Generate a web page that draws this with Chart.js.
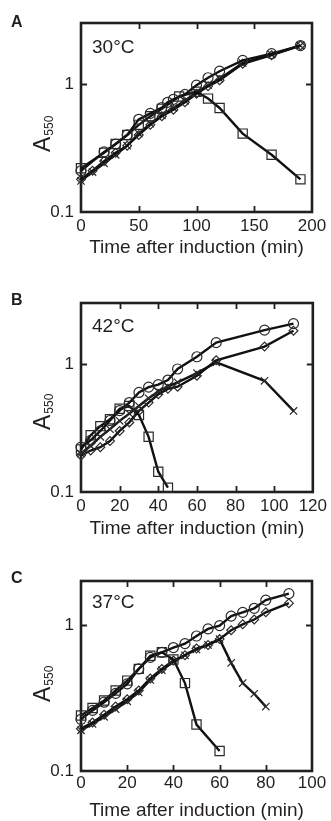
<!DOCTYPE html>
<html>
<head>
<meta charset="utf-8">
<script src="https://cdn.jsdelivr.net/npm/chart.js@4.4.1/dist/chart.umd.min.js"></script>
<style>
  html, body { margin:0; padding:0; background:#fff; }
  body { width:331px; height:821px; position:relative; overflow:hidden; }
  canvas { position:absolute; left:0; }
</style>
</head>
<body>
<canvas id="cA" width="331" height="270" style="top:0px"></canvas>
<canvas id="cB" width="331" height="270" style="top:280px"></canvas>
<canvas id="cC" width="331" height="271" style="top:550px"></canvas>
<script>
// ---------- Data ----------
// Panel A, 30°C
const aCircleT  = [0,20,30,40,50,60,70,75,80,90,100,110,120,140,165,190];
const aCircleV  = [0.21,0.295,0.34,0.40,0.53,0.59,0.655,0.72,0.76,0.83,0.98,1.12,1.26,1.53,1.73,2.0];
const aSquareT  = [0,20,30,40,50,60,70,85,100,110,120,140,165,190];
const aSquareV  = [0.22,0.29,0.34,0.40,0.48,0.56,0.64,0.80,0.87,0.77,0.65,0.41,0.28,0.18];
const aDiamondT = [0,10,20,30,40,50,60,70,80,90,100,110,120,140,165,190];
const aDiamondV = [0.18,0.21,0.25,0.29,0.33,0.40,0.48,0.56,0.63,0.72,0.84,0.96,1.07,1.44,1.68,2.0];
const aCrossT   = [0,10,20,30,40,50,60,70,80,90,100,110,120,140,165,190];
const aCrossV   = [0.175,0.205,0.24,0.28,0.33,0.41,0.49,0.57,0.65,0.74,0.86,0.98,1.10,1.46,1.70,2.0];

// Panel B, 42°C
const bCircleT  = [0,5,10,15,20,25,30,35,40,45,50,60,70,95,110];
const bCircleV  = [0.224,0.253,0.30,0.362,0.433,0.50,0.60,0.66,0.69,0.75,0.915,1.14,1.47,1.84,2.07];
const bSquareT  = [0,5,10,15,20,25,30,35,40,45];
const bSquareV  = [0.215,0.278,0.327,0.37,0.447,0.47,0.40,0.27,0.144,0.108];
const bDiamondT = [0,5,10,15,20,25,30,35,40,45,50,60,70,95,110];
const bDiamondV = [0.193,0.211,0.224,0.25,0.30,0.35,0.43,0.50,0.58,0.64,0.665,0.81,1.07,1.37,1.82];
const bCrossT   = [0,5,10,15,20,25,30,35,40,45,50,60,70,95,110];
const bCrossV   = [0.20,0.23,0.27,0.31,0.36,0.41,0.47,0.54,0.61,0.67,0.72,0.85,1.03,0.74,0.43];

// Panel C, 37°C
const cCircleT  = [0,5,10,15,20,25,30,35,40,45,50,55,60,65,70,75,80,90];
const cCircleV  = [0.226,0.26,0.296,0.34,0.395,0.50,0.60,0.65,0.70,0.745,0.84,0.94,0.99,1.15,1.22,1.30,1.48,1.64];
const cSquareT  = [0,5,10,15,20,25,30,35,40,45,50,60];
const cSquareV  = [0.24,0.27,0.304,0.356,0.416,0.50,0.615,0.65,0.58,0.40,0.208,0.137];
const cDiamondT = [0,5,10,15,20,25,30,35,40,45,50,55,60,65,70,75,80,90];
const cDiamondV = [0.195,0.215,0.243,0.277,0.31,0.356,0.43,0.50,0.57,0.62,0.69,0.73,0.80,0.92,1.01,1.09,1.22,1.41];
const cCrossT   = [0,5,10,15,20,25,30,35,40,45,50,55,60,65,70,75,80];
const cCrossV   = [0.19,0.21,0.235,0.265,0.30,0.345,0.42,0.49,0.56,0.62,0.68,0.73,0.80,0.55,0.40,0.338,0.276];

// Axis ticks / labels
const aXTicks = [0,50,100,150,200];
const bXTicks = [0,20,40,60,80,100,120];
const cXTicks = [0,20,40,60,80,100];
const yTicks = [0.1, 1];
const yTickLabels = ['0.1', '1'];
const panelLetters = ['A','B','C'];
const panelTemps = ['30°C','42°C','37°C'];
const xTitle = 'Time after induction (min)';
const yTitleMain = 'A';
const yTitleSub = '550';

// ---------- Rendering ----------
const FONT = '"Liberation Sans", Arial, Helvetica, sans-serif';
const INK = '#231f20';

function pts(ts, vs) { return ts.map((t, i) => ({x: t, y: vs[i]})); }

function ds(ts, vs, style, radius) {
  return {
    data: pts(ts, vs),
    showLine: true,
    borderColor: '#111',
    borderWidth: 2.4,
    pointStyle: style,
    pointRadius: radius,
    pointHoverRadius: radius,
    pointBorderColor: '#2a2a2a',
    pointBorderWidth: 1.2,
    pointBackgroundColor: 'rgba(0,0,0,0)',
    tension: 0,
    clip: 12
  };
}

const framePlugin = {
  id: 'frame',
  beforeDatasetsDraw(chart, args, o) {
    const ctx = chart.ctx, a = chart.chartArea;
    const xs = chart.scales.x, ys = chart.scales.y;
    ctx.save();
    ctx.strokeStyle = INK;
    ctx.lineWidth = 1.8;
    const L = 6;
    o.xTicks.forEach(v => {
      const px = Math.round(xs.getPixelForValue(v)) + 0.5;
      if (px - a.left < 2 || a.right - px < 2) return;
      ctx.beginPath();
      ctx.moveTo(px, a.bottom); ctx.lineTo(px, a.bottom - L);
      ctx.moveTo(px, a.top); ctx.lineTo(px, a.top + L);
      ctx.stroke();
    });
    o.yTicks.forEach(v => {
      const py = Math.round(ys.getPixelForValue(v)) + 0.5;
      if (py - a.top < 2 || a.bottom - py < 2) return;
      ctx.beginPath();
      ctx.moveTo(a.left, py); ctx.lineTo(a.left + L, py);
      ctx.moveTo(a.right, py); ctx.lineTo(a.right - L, py);
      ctx.stroke();
    });
    ctx.lineWidth = 2.6;
    ctx.strokeRect(a.left, a.top, a.right - a.left, a.bottom - a.top);
    ctx.restore();
  },
  afterDraw(chart, args, o) {
    const ctx = chart.ctx, a = chart.chartArea;
    ctx.save();
    ctx.fillStyle = INK;
    // panel letter
    ctx.font = 'bold 16px ' + FONT;
    ctx.textAlign = 'left';
    ctx.textBaseline = 'middle';
    ctx.fillText(o.letter, 11, o.letterY);
    // temperature
    ctx.font = '19px ' + FONT;
    ctx.fillText(o.temp, 92, a.top + o.tempDy);
    // x title
    ctx.font = '19px ' + FONT;
    ctx.textAlign = 'center';
    ctx.fillText(xTitle, (a.left + a.right) / 2, a.bottom + o.xTitleDy);
    // y title with subscript, rotated
    ctx.translate(50, o.yTitleStart);
    ctx.rotate(-Math.PI / 2);
    ctx.textAlign = 'left';
    ctx.textBaseline = 'alphabetic';
    ctx.font = '23px ' + FONT;
    ctx.fillText(yTitleMain, 0, 0);
    const w = ctx.measureText(yTitleMain).width;
    ctx.font = '12px ' + FONT;
    ctx.fillText(yTitleSub, w + 1, 3);
    ctx.restore();
  }
};

function makeChart(id, cfg) {
  new Chart(document.getElementById(id), {
    type: 'scatter',
    data: { datasets: [
      ds(cfg.circle[0], cfg.circle[1], 'circle', 5),
      ds(cfg.square[0], cfg.square[1], 'rect', 6.5),
      ds(cfg.diamond[0], cfg.diamond[1], 'rectRot', 4.4),
      ds(cfg.cross[0], cfg.cross[1], 'crossRot', 5.2)
    ]},
    options: {
      responsive: false,
      animation: false,
      devicePixelRatio: 1,
      layout: { padding: { top: cfg.padTop, right: cfg.padRight, left: 0, bottom: 0 } },
      plugins: {
        legend: { display: false },
        tooltip: { enabled: false },
        frame: cfg.frame
      },
      scales: {
        x: {
          type: 'linear',
          min: cfg.xTicks[0], max: cfg.xTicks[cfg.xTicks.length - 1],
          afterBuildTicks: s => { s.ticks = cfg.xTicks.map(v => ({value: v})); },
          afterFit: s => { s.height = cfg.xHeight; },
          grid: { display: false, drawTicks: false },
          border: { display: false },
          ticks: { font: { family: FONT, size: 17 }, color: INK, padding: cfg.xPad, maxRotation: 0,
                   callback: v => String(v) }
        },
        y: {
          type: 'logarithmic',
          min: 0.1, max: cfg.yMax,
          afterBuildTicks: s => { s.ticks = yTicks.map(v => ({value: v})); },
          afterFit: s => { s.width = 81; },
          grid: { display: false, drawTicks: false },
          border: { display: false },
          ticks: { font: { family: FONT, size: 17 }, color: INK, padding: 7,
                   callback: v => yTickLabels[yTicks.indexOf(v)] ?? String(v) }
        }
      }
    },
    plugins: [framePlugin]
  });
}

makeChart('cA', {
  circle: [aCircleT, aCircleV], square: [aSquareT, aSquareV],
  diamond: [aDiamondT, aDiamondV], cross: [aCrossT, aCrossV],
  xTicks: aXTicks, yMax: 3, padTop: 23, padRight: 19, xHeight: 58, xPad: 4,
  frame: { letter: panelLetters[0], letterY: 23, temp: panelTemps[0], tempDy: 25,
           xTitleDy: 36, yTitleStart: 152, xTicks: aXTicks, yTicks: yTicks }
});
makeChart('cB', {
  circle: [bCircleT, bCircleV], square: [bSquareT, bSquareV],
  diamond: [bDiamondT, bDiamondV], cross: [bCrossT, bCrossV],
  xTicks: bXTicks, yMax: 3, padTop: 23, padRight: 18, xHeight: 58, xPad: 4,
  frame: { letter: panelLetters[1], letterY: 21, temp: panelTemps[1], tempDy: 24,
           xTitleDy: 36.5, yTitleStart: 150, xTicks: bXTicks, yTicks: yTicks }
});
makeChart('cC', {
  circle: [cCircleT, cCircleV], square: [cSquareT, cSquareV],
  diamond: [cDiamondT, cDiamondV], cross: [cCrossT, cCrossV],
  xTicks: cXTicks, yMax: 2, padTop: 31, padRight: 19, xHeight: 50, xPad: 2,
  frame: { letter: panelLetters[2], letterY: 29, temp: panelTemps[2], tempDy: 22,
           xTitleDy: 39.5, yTitleStart: 152, xTicks: cXTicks, yTicks: yTicks }
});
</script>
</body>
</html>
